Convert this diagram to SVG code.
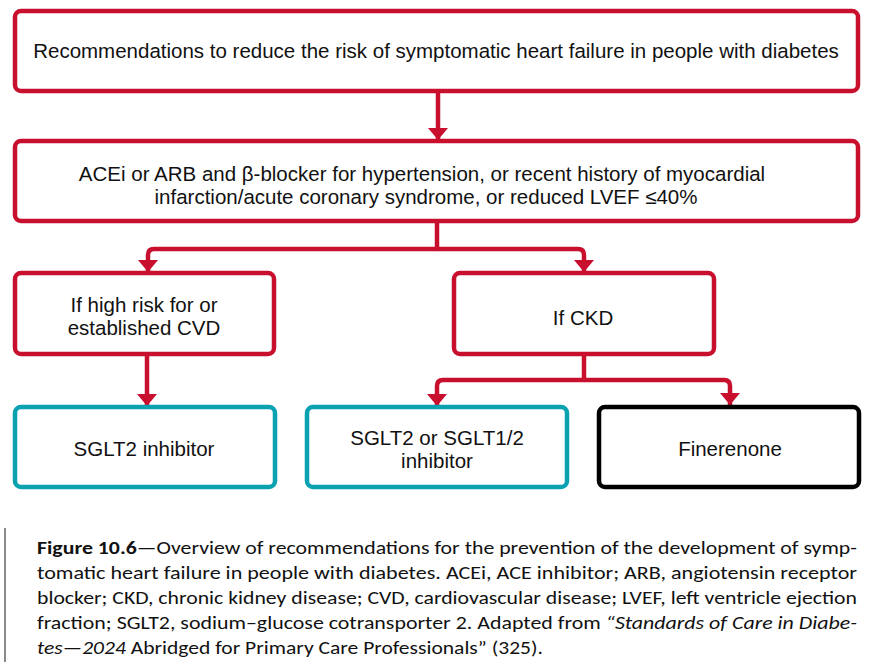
<svg xmlns="http://www.w3.org/2000/svg" width="872" height="662" viewBox="0 0 872 662">
<style>
.box{fill:#fff;stroke-width:4.5}
.red{stroke:#C8102E}
.cyan{stroke:#0AA1B1}
.blk{stroke:#000}
.t{font-family:"Liberation Sans",Arial,sans-serif;font-size:20.5px;fill:#111;text-anchor:middle}
.conn{fill:none;stroke:#C8102E;stroke-width:4.5;stroke-linejoin:round}
.cap{font-family:"Carlito","Liberation Sans",Arial,sans-serif;font-size:17.5px;fill:#111}
</style>
<defs>
<marker id="ah" viewBox="0 0 12 20" refX="12" refY="10" markerWidth="12" markerHeight="20" markerUnits="userSpaceOnUse" orient="auto">
<path d="M0,0 L12,10 L0,20 z" fill="#C8102E"/>
</marker>
</defs>
<rect width="872" height="662" fill="#fff"/>
<g id="connectors">
<path class="conn" d="M438,92 V140" marker-end="url(#ah)"/>
<path class="conn" d="M437,223 V249 H154 Q148,249 148,255 V272" marker-end="url(#ah)"/>
<path class="conn" d="M437,249 H578 Q584,249 584,255 V272" marker-end="url(#ah)"/>
<path class="conn" d="M147,356 V406" marker-end="url(#ah)"/>
<path class="conn" d="M584,356 V380 H443 Q437,380 437,386 V406" marker-end="url(#ah)"/>
<path class="conn" d="M584,380 H724 Q730,380 730,386 V405" marker-end="url(#ah)"/>
</g>
<g id="n1">
<rect class="box red" x="15" y="11" width="843" height="80" rx="6"/>
<text class="t" x="436" y="58">Recommendations to reduce the risk of symptomatic heart failure in people with diabetes</text>
</g>
<g id="n2">
<rect class="box red" x="15" y="141" width="843" height="80" rx="6"/>
<text class="t" x="422" y="181">ACEi or ARB and β-blocker for hypertension, or recent history of myocardial</text>
<text class="t" x="426" y="204">infarction/acute coronary syndrome, or reduced LVEF ≤40%</text>
</g>
<g id="n3">
<rect class="box red" x="15" y="273" width="259" height="81" rx="6"/>
<text class="t" x="144" y="312">If high risk for or</text>
<text class="t" x="144" y="335">established CVD</text>
</g>
<g id="n4">
<rect class="box red" x="454" y="273" width="260" height="81" rx="6"/>
<text class="t" x="583" y="325">If CKD</text>
</g>
<g id="n5">
<rect class="box cyan" x="15" y="407" width="260" height="80" rx="6"/>
<text class="t" x="144" y="456">SGLT2 inhibitor</text>
</g>
<g id="n6">
<rect class="box cyan" x="307" y="407" width="260" height="80" rx="6"/>
<text class="t" x="437" y="445">SGLT2 or SGLT1/2</text>
<text class="t" x="437" y="468">inhibitor</text>
</g>
<g id="n7">
<rect class="box blk" x="599" y="407" width="260" height="80" rx="6"/>
<text class="t" x="730" y="456">Finerenone</text>
</g>
<g id="caption">
<line x1="5" y1="528" x2="5" y2="662" stroke="#8a8a8a" stroke-width="2"/>
<text class="cap" x="37" y="554" textLength="820" lengthAdjust="spacingAndGlyphs"><tspan font-weight="bold">Figure 10.6</tspan>—Overview of recommendations for the prevention of the development of symp-</text>
<text class="cap" x="37" y="579" textLength="820" lengthAdjust="spacingAndGlyphs">tomatic heart failure in people with diabetes. ACEi, ACE inhibitor; ARB, angiotensin receptor</text>
<text class="cap" x="37" y="604" textLength="820" lengthAdjust="spacingAndGlyphs">blocker; CKD, chronic kidney disease; CVD, cardiovascular disease; LVEF, left ventricle ejection</text>
<text class="cap" x="37" y="629" textLength="820" lengthAdjust="spacingAndGlyphs">fraction; SGLT2, sodium–glucose cotransporter 2. Adapted from <tspan font-style="italic">“Standards of Care in Diabe-</tspan></text>
<text class="cap" x="37" y="654" textLength="506" lengthAdjust="spacingAndGlyphs"><tspan font-style="italic">tes—2024</tspan> Abridged for Primary Care Professionals” (325).</text>
</g>
</svg>
